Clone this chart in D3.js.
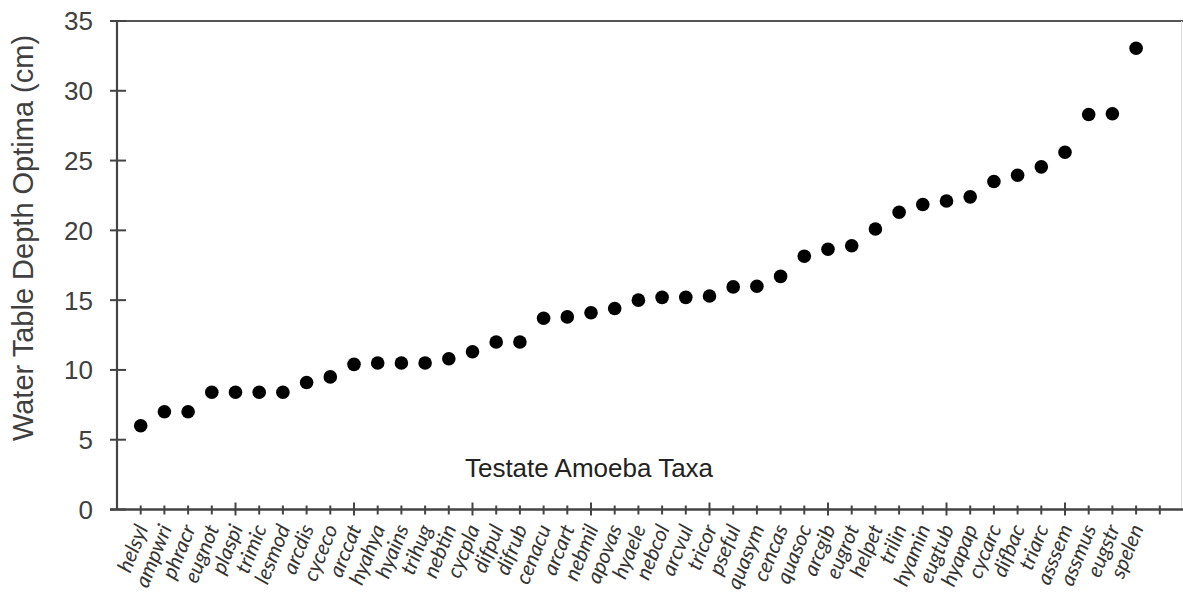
<!DOCTYPE html>
<html>
<head>
<meta charset="utf-8">
<script src="https://cdn.jsdelivr.net/npm/d3@7"></script>
<style>
  html, body { margin: 0; padding: 0; background: #fff; }
  svg { display: block; }
</style>
</head>
<body>
<svg id="chart" width="1183" height="594"></svg>
<script>
// Testate amoeba taxa, ordered by water table depth optimum
const taxa = [
  "helsyl", "ampwri", "phracr", "eugnot", "plaspi", "trimic", "lesmod", "arcdis",
  "cyceco", "arccat", "hyahya", "hyains", "trihug", "nebtin", "cycpla", "difpul",
  "difrub", "cenacu", "arcart", "nebmil", "apovas", "hyaele", "nebcol", "arcvul",
  "tricor", "pseful", "quasym", "cencas", "quasoc", "arcgib", "eugrot", "helpet",
  "trilin", "hyamin", "eugtub", "hyapap", "cycarc", "difbac", "triarc", "asssem",
  "assmus", "eugstr", "spelen"
];

// Water table depth optima (cm)
const optima = [
  6.0, 7.0, 7.0, 8.4, 8.4, 8.4, 8.4, 9.1,
  9.5, 10.4, 10.5, 10.5, 10.5, 10.8, 11.3, 12.0,
  12.0, 13.7, 13.8, 14.1, 14.4, 15.0, 15.2, 15.2,
  15.3, 15.95, 16.0, 16.7, 18.15, 18.65, 18.9, 20.1,
  21.3, 21.85, 22.1, 22.4, 23.5, 23.95, 24.55, 25.6,
  28.3, 28.35, 33.05
];

const yTicks = [0, 5, 10, 15, 20, 25, 30, 35];
const yTitle = "Water Table Depth Optima (cm)";
const innerLabel = "Testate Amoeba Taxa";

const svg = d3.select("#chart");
const axisColor = "#444";
const textColor = "#404040";

const x = d3.scaleLinear().domain([0, 45]).range([117, 117 + 45 * 23.7]);
const y = d3.scaleLinear().domain([0, 35]).range([509.5, 21]);

// Plot frame: top border and faint right edge
svg.append("line")
  .attr("x1", x(0)).attr("x2", 1183)
  .attr("y1", y(35)).attr("y2", y(35))
  .attr("stroke", "#555").attr("stroke-width", 2);
svg.append("line")
  .attr("x1", 1181.5).attr("x2", 1181.5)
  .attr("y1", y(35)).attr("y2", y(0))
  .attr("stroke", "#ddd").attr("stroke-width", 1);

// Y axis
const yAxis = svg.append("g").attr("transform", `translate(${x(0)},0)`);
yAxis.append("line")
  .attr("y1", y(0)).attr("y2", y(35))
  .attr("stroke", axisColor).attr("stroke-width", 2.2);
yAxis.selectAll("line.tick")
  .data(yTicks)
  .join("line")
  .attr("class", "tick")
  .attr("x1", -7).attr("x2", 9)
  .attr("y1", d => y(d)).attr("y2", d => y(d))
  .attr("stroke", axisColor).attr("stroke-width", 2);
yAxis.selectAll("text")
  .data(yTicks)
  .join("text")
  .attr("x", -24)
  .attr("y", d => y(d))
  .attr("dy", "0.36em")
  .attr("text-anchor", "end")
  .attr("font-family", "Liberation Sans, Arial, sans-serif")
  .attr("font-size", 26)
  .attr("fill", textColor)
  .text(d => d);

// X axis with a tick at every taxon position, longer ticks every five
const xTickVals = d3.range(1, 45);
const xAxis = svg.append("g").attr("transform", `translate(0,${y(0)})`);
xAxis.append("line")
  .attr("x1", x(0) - 7).attr("x2", 1183)
  .attr("stroke", axisColor).attr("stroke-width", 2.6);
xAxis.selectAll("line.tick")
  .data(xTickVals)
  .join("line")
  .attr("class", "tick")
  .attr("x1", d => x(d)).attr("x2", d => x(d))
  .attr("y1", d => d % 5 === 0 ? -7 : -4)
  .attr("y2", d => d % 5 === 0 ? 6 : 5)
  .attr("stroke", axisColor).attr("stroke-width", 2);

// Rotated taxon labels
xAxis.selectAll("text")
  .data(taxa)
  .join("text")
  .attr("transform", (d, i) => `translate(${x(i + 1) + 1},${16}) rotate(-68)`)
  .attr("dy", "0.35em")
  .attr("text-anchor", "end")
  .attr("font-family", "Lato, 'Open Sans', sans-serif")
  .attr("font-style", "italic")
  .attr("font-size", 21)
  .attr("fill", "#333")
  .text(d => d);

// Y axis title
svg.append("text")
  .attr("transform", `translate(33,238) rotate(-90)`)
  .attr("text-anchor", "middle")
  .attr("font-family", "Liberation Sans, Arial, sans-serif")
  .attr("font-size", 29)
  .attr("fill", textColor)
  .text(yTitle);

// Label inside the plot area
svg.append("text")
  .attr("x", 589)
  .attr("y", 477)
  .attr("text-anchor", "middle")
  .attr("font-family", "Liberation Sans, Arial, sans-serif")
  .attr("font-size", 26)
  .attr("fill", "#222")
  .text(innerLabel);

// Data points
svg.append("g")
  .selectAll("circle")
  .data(optima)
  .join("circle")
  .attr("cx", (d, i) => x(i + 1))
  .attr("cy", d => y(d))
  .attr("r", 6.8)
  .attr("fill", "#000");
</script>
</body>
</html>
